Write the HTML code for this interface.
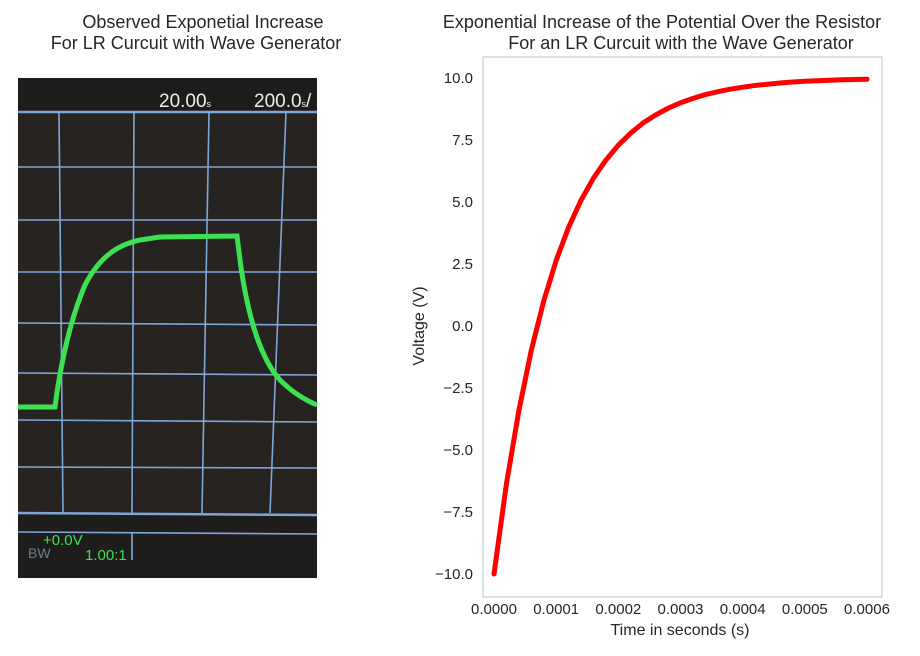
<!DOCTYPE html>
<html><head><meta charset="utf-8"><style>
body{margin:0;background:#fff;font-family:"Liberation Sans",Arial,sans-serif;}
svg text{font-family:"Liberation Sans",Arial,sans-serif;}
</style></head><body>
<svg width="920" height="651" viewBox="0 0 920 651">
<g>
<text x="203" y="28" font-size="18" text-anchor="middle" fill="#262626">Observed Exponetial Increase</text>
<text x="196" y="49" font-size="18" text-anchor="middle" fill="#262626">For LR Curcuit with Wave Generator</text>
<rect x="18" y="78" width="299" height="500" fill="#262320"/>
<rect x="18" y="78" width="299" height="33" fill="#1e1c1a"/>
<rect x="18" y="515" width="299" height="63" fill="#1f1d1b"/>
<g stroke="#7fa6d8" stroke-width="1.6">
<line x1="18" y1="112" x2="317" y2="112" stroke-width="2.5"/>
<line x1="18" y1="167" x2="317" y2="167"/>
<line x1="18" y1="220" x2="317" y2="220"/>
<line x1="18" y1="272" x2="317" y2="272"/>
<line x1="18" y1="323" x2="317" y2="325"/>
<line x1="18" y1="373" x2="317" y2="375"/>
<line x1="18" y1="420" x2="317" y2="422"/>
<line x1="18" y1="467" x2="317" y2="468"/>
<line x1="18" y1="513" x2="317" y2="515" stroke-width="2.5"/>
<line x1="18" y1="532" x2="317" y2="534"/>
<line x1="59" y1="112" x2="63" y2="513"/>
<line x1="134" y1="112" x2="132" y2="513"/>
<line x1="209" y1="112" x2="202" y2="513"/>
<line x1="286" y1="112" x2="270" y2="513"/>
<line x1="132" y1="533" x2="132" y2="560"/>
</g>
<path d="M18,407 L55,407 L57,392 C62,360 70,320 85,285 C98,260 115,245 140,240 L160,237 L237,236 L240,260 C248,320 262,360 280,380 C292,392 305,400 317,405" fill="none" stroke="#3de052" stroke-width="5"/>
<text x="159" y="107" font-size="19" fill="#eee">20.00<tspan font-size="9">s</tspan></text>
<text x="254" y="107" font-size="19" fill="#eee">200.0<tspan font-size="9">s</tspan>/</text>
<text x="43" y="545" font-size="15" fill="#3de052">+0.0V</text>
<text x="28" y="558" font-size="14" fill="#6a7f90">BW</text>
<text x="85" y="560" font-size="15" fill="#3de052">1.00:1</text>
</g>
<g>
<text x="662" y="28" font-size="18" text-anchor="middle" fill="#262626">Exponential Increase of the Potential Over the Resistor</text>
<text x="681" y="49" font-size="18" text-anchor="middle" fill="#262626">For an LR Curcuit with the Wave Generator</text>
<rect x="483" y="57" width="399" height="540" fill="#fff" stroke="#cccccc" stroke-width="1.2"/>
<g id="yt"></g>
<g id="xt"></g>
<text x="424" y="326" font-size="16" text-anchor="middle" fill="#262626" transform="rotate(-90 424 326)">Voltage (V)</text>
<text x="680" y="635" font-size="16" text-anchor="middle" fill="#262626">Time in seconds (s)</text>
<g id="series"></g>
</g>
</svg>
<script>
const times=[0,0.00002,0.00004,0.00006,0.00008,0.0001,0.00012,0.00014,0.00016,0.00018,0.0002,0.00022,0.00024,0.00026,0.00028,0.0003,0.00032,0.00034,0.00036,0.00038,0.0004,0.00042,0.00044,0.00046,0.00048,0.0005,0.00052,0.00054,0.00056,0.00058,0.0006];
const voltages=[-10,-6.37,-3.41,-0.98,1.01,2.64,3.98,5.07,5.96,6.69,7.29,7.78,8.19,8.51,8.78,9.0,9.18,9.33,9.45,9.55,9.63,9.7,9.75,9.8,9.84,9.87,9.89,9.91,9.93,9.94,9.95];
const yTicks=[10,7.5,5,2.5,0,-2.5,-5,-7.5,-10];
const yTickLabels=["10.0","7.5","5.0","2.5","0.0","\u22122.5","\u22125.0","\u22127.5","\u221210.0"];
const xTicks=[0,0.0001,0.0002,0.0003,0.0004,0.0005,0.0006];
const xTickLabels=["0.0000","0.0001","0.0002","0.0003","0.0004","0.0005","0.0006"];
const NS="http://www.w3.org/2000/svg";
function sx(t){return 494+t/0.0006*373;}
function sy(v){return 326-v*24.8;}
const yt=document.getElementById('yt'),xt=document.getElementById('xt'),se=document.getElementById('series');
yTicks.forEach((v,i)=>{const t=document.createElementNS(NS,'text');


t.setAttribute('x',473);t.setAttribute('y',sy(v)+5);t.setAttribute('font-size','15');t.setAttribute('text-anchor','end');t.setAttribute('fill','#262626');t.textContent=yTickLabels[i];yt.appendChild(t);});
xTicks.forEach((v,i)=>{const t=document.createElementNS(NS,'text');


t.setAttribute('x',sx(v));t.setAttribute('y',614);t.setAttribute('font-size','15');t.setAttribute('text-anchor','middle');t.setAttribute('fill','#262626');t.textContent=xTickLabels[i];xt.appendChild(t);});
const p=document.createElementNS(NS,'polyline');


p.setAttribute('points',times.map((t,i)=>sx(t)+','+sy(voltages[i])).join(' '));
p.setAttribute('fill','none');p.setAttribute('stroke','#ff0000');p.setAttribute('stroke-width','5');p.setAttribute('stroke-linejoin','round');p.setAttribute('stroke-linecap','round');
se.appendChild(p);
</script>
</body></html>
